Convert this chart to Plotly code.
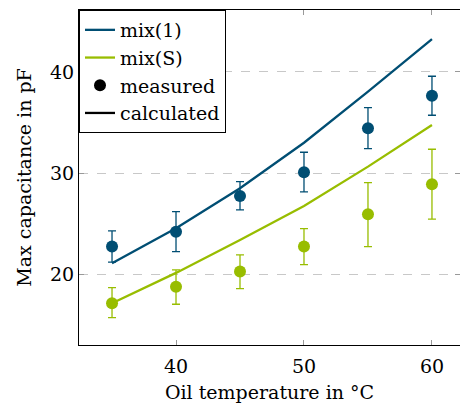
import plotly.graph_objects as go

# Data
temps = [35, 40, 45, 50, 55, 60]

mix1_measured = [22.73, 24.21, 27.74, 30.08, 34.43, 37.66]
mix1_err_upper = [24.28, 26.19, 29.15, 32.06, 36.47, 39.58]
mix1_err_lower = [21.19, 22.23, 26.36, 28.14, 32.42, 35.72]
mix1_calculated = [21.09, 24.55, 28.5, 33.0, 38.05, 43.26]

mixS_measured = [17.13, 18.77, 20.26, 22.73, 25.93, 28.90]
mixS_err_upper = [18.68, 20.43, 21.91, 24.51, 29.06, 32.36]
mixS_err_lower = [15.71, 17.03, 18.58, 20.95, 22.73, 25.44]
mixS_calculated = [17.13, 20.13, 23.39, 26.75, 30.64, 34.76]

x_ticks = [40, 50, 60]
y_ticks = [20, 30, 40]

BLUE = "#004E73"
GREEN = "#98BD00"
FONT = "DejaVu Serif, Liberation Serif, serif"
FS = 19

def errs(vals, up, lo):
    return [u - v for u, v in zip(up, vals)], [v - l for v, l in zip(vals, lo)]

fig = go.Figure()

for name, color, meas, up, lo, calc in [
    ("mix(1)", BLUE, mix1_measured, mix1_err_upper, mix1_err_lower, mix1_calculated),
    ("mix(S)", GREEN, mixS_measured, mixS_err_upper, mixS_err_lower, mixS_calculated),
]:
    plus, minus = errs(meas, up, lo)
    fig.add_trace(go.Scatter(
        x=temps, y=calc, mode="lines", name=name,
        line=dict(color=color, width=2.3), showlegend=True,
    ))
    fig.add_trace(go.Scatter(
        x=temps, y=meas, mode="markers", name=name + " measured",
        marker=dict(color=color, size=12),
        error_y=dict(type="data", symmetric=False, array=plus, arrayminus=minus,
                     color=color, thickness=1.3, width=4),
        showlegend=False,
    ))

fig.add_trace(go.Scatter(x=[None], y=[None], mode="markers", name="measured",
                         marker=dict(color="black", size=12)))
fig.add_trace(go.Scatter(x=[None], y=[None], mode="lines", name="calculated",
                         line=dict(color="black", width=2.3)))

tickfont = dict(family=FONT, size=FS, color="black")

fig.update_layout(
    width=460, height=405,
    margin=dict(l=79, r=0, t=10, b=60),
    plot_bgcolor="white", paper_bgcolor="white",
    font=dict(family=FONT, size=FS, color="black"),
    showlegend=True,
    legend=dict(x=0, y=1, xanchor="left", yanchor="top",
                bgcolor="white", bordercolor="black", borderwidth=1,
                font=dict(family=FONT, size=FS, color="black"), tracegroupgap=0,
                itemwidth=30, entrywidth=150, entrywidthmode="pixels"),
    xaxis=dict(
        range=[32.42, 62.19], tickvals=x_ticks, ticktext=[str(v) for v in x_ticks],
        tickfont=tickfont, automargin=False, ticklabelstandoff=4,
        showgrid=False, zeroline=False,
        showline=True, linecolor="black", linewidth=1, mirror="ticks",
        ticks="inside", ticklen=5, tickcolor="#999999", tickwidth=1,
        title=dict(text="Oil temperature in °C", standoff=9,
                   font=dict(family=FONT, size=FS, color="black")),
    ),
    yaxis=dict(
        range=[13.0, 46.13], tickvals=y_ticks, ticktext=[str(v) for v in y_ticks],
        tickfont=tickfont, automargin=False,
        showgrid=True, gridcolor="#c8c8c8", griddash="dash", gridwidth=1,
        zeroline=False,
        showline=True, linecolor="black", linewidth=1, mirror="ticks",
        ticks="inside", ticklen=5, tickcolor="#999999", tickwidth=1,
        title=dict(text="Max capacitance in pF", standoff=13,
                   font=dict(family=FONT, size=FS, color="black")),
    ),
)

fig.write_html("out.html", config={"displayModeBar": False},
               post_script="document.body.style.margin='0';")
